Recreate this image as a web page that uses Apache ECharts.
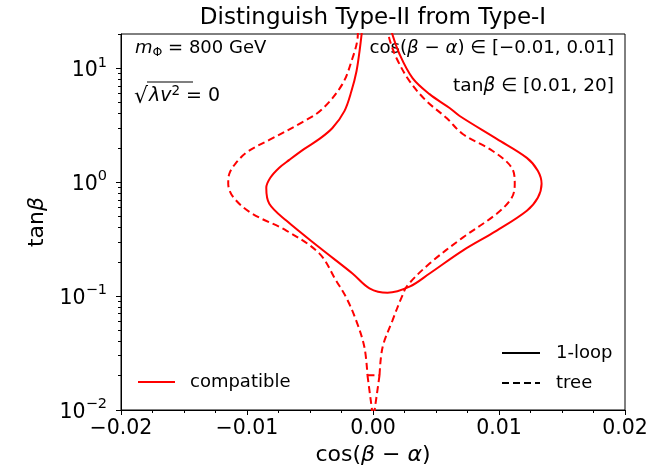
<!DOCTYPE html>
<html><head><meta charset="utf-8">
<script src="https://cdn.jsdelivr.net/npm/echarts@6/dist/echarts.min.js"></script>
<style>html,body{margin:0;padding:0;background:#fff}#c{width:672px;height:469px}</style>
</head><body><div id="c"></div>
<script>
// ---- data ----
const xTickValues = [-0.02, -0.01, 0, 0.01, 0.02];
const yMajorTicks = [0.01, 0.1, 1, 10];
const yMinorTicks = [0.02,0.03,0.04,0.05,0.06,0.07,0.08,0.09,
                     0.2,0.3,0.4,0.5,0.6,0.7,0.8,0.9,
                     2,3,4,5,6,7,8,9,20];
// 1-loop contour (solid)
const loopCurve = [
  [-0.00088,21],[-0.00107,14.1],[-0.00131,9.43],[-0.00171,6.31],[-0.00227,4.21],
  [-0.00322,2.99],[-0.00425,2.40],[-0.00545,1.96],[-0.00664,1.57],[-0.00744,1.34],
  [-0.00815,1.093],[-0.00847,0.893],[-0.00823,0.647],[-0.00688,0.46],[-0.00425,0.267],
  [-0.00163,0.158],[-0.00028,0.117],[0.00115,0.107],[0.0029,0.121],[0.00449,0.158],
  [0.00712,0.251],[0.00982,0.376],[0.01221,0.562],[0.01308,0.73],[0.01338,0.968],
  [0.01308,1.26],[0.01221,1.635],[0.00982,2.40],[0.00688,3.81],[0.00608,4.48],
  [0.00449,5.93],[0.00314,8.2],[0.00211,13.28],[0.00147,21]
];
// tree contour (dashed): left branch, bottom step, right branch, lower tails
const treeLeft = [
  [-0.0012,21],[-0.00123,18],[-0.00163,12.26],[-0.00243,7.26],[-0.00402,4.39],
  [-0.00545,3.44],[-0.00823,2.35],[-0.00998,1.845],[-0.01093,1.45],
  [-0.01141,1.18],[-0.01149,0.968],[-0.01105,0.73],[-0.00958,0.529],[-0.00688,0.376],
  [-0.00425,0.236],[-0.00293,0.137],[-0.00213,0.0974],[-0.00134,0.0613],
  [-0.00068,0.0356],[-0.00044,0.0202]
];
const treeStep = [[-0.00044,0.0202],[0.00052,0.0202]];
const treeRight = [
  [0.00052,0.0202],[0.00076,0.0356],[0.00155,0.0613],[0.00227,0.0974],[0.00274,0.124],
  [0.00449,0.193],[0.00712,0.326],[0.00982,0.529],[0.01101,0.73],[0.01125,0.968],
  [0.01101,1.34],[0.0095,1.88],[0.00712,2.65],[0.00584,3.66],[0.00425,5.15],
  [0.0029,7.71],[0.00187,12.26],[0.00131,18],[0.00123,21]
];
const treeTailLeft = [[-0.00044,0.0202],[-0.00005,0.0095]];
const treeTailRight = [[0.00052,0.0202],[0.0001,0.0095]];

// ---- chart ----
const FONT = 'DejaVu Sans';
const RED = '#ff0000';
const chart = echarts.init(document.getElementById('c'), null, {renderer:'canvas'});

function xFmt(v){
  if (Math.abs(v) < 1e-9) return '0.00';
  return v.toFixed(2).replace('-', '\u2212');
}
function yFmt(v){
  const e = Math.round(Math.log10(v));
  return '{b|10}{s|' + (e < 0 ? '\u2212' + (-e) : e) + '}';
}

const lineBase = {type:'line', showSymbol:false, symbol:'none', clip:true, smooth:0.35, animation:false, silent:true};
const dash = {color:RED, width:2, type:[7,4]};

chart.setOption({
  animation:false,
  backgroundColor:'#fff',
  grid:{left:121, right:47, top:34, bottom:59, containLabel:false, outerBoundsMode:'none',
        show:true, borderColor:'#000', borderWidth:1, backgroundColor:'transparent'},
  xAxis:{
    type:'value', min:-0.02, max:0.02, interval:0.01,
    axisLine:{show:true, onZero:false, lineStyle:{color:'#000', width:1}},
    axisTick:{show:true, length:5, lineStyle:{color:'#000', width:1}},
    minorTick:{show:true, splitNumber:4, length:3, lineStyle:{color:'#000', width:1}},
    splitLine:{show:false},
    axisLabel:{formatter:xFmt, color:'#000', fontFamily:FONT, fontSize:20.5, margin:8},
    name:'{r|cos(}{i|β}{r| − }{i|α}{r|)}', nameLocation:'middle', nameGap:34,
    nameTextStyle:{rich:{r:{fontFamily:FONT, fontSize:22, color:'#000'}, i:{fontFamily:FONT, fontStyle:'italic', fontSize:22, color:'#000'}}}
  },
  yAxis:[{
    type:'log', logBase:10, min:0.01, max:20,
    axisLine:{show:true, onZero:false, lineStyle:{color:'#000', width:1}},
    axisTick:{show:true, length:5, customValues:yMajorTicks, lineStyle:{color:'#000', width:1}},
    splitLine:{show:false},
    axisLabel:{customValues:yMajorTicks, formatter:yFmt, margin:14,
      rich:{b:{fontFamily:FONT, fontSize:20.5, color:'#000', lineHeight:26, verticalAlign:'bottom'},
            s:{fontFamily:FONT, fontSize:14.5, color:'#000', lineHeight:26, verticalAlign:'top'}}},
    name:'{r|tan}{i|β}', nameLocation:'middle', nameGap:70,
    nameTextStyle:{rich:{r:{fontFamily:FONT, fontSize:22, color:'#000'}, i:{fontFamily:FONT, fontStyle:'italic', fontSize:22, color:'#000'}}}
  },{
    type:'log', logBase:10, min:0.01, max:20, position:'left',
    axisLine:{show:false, onZero:false},
    axisTick:{show:true, length:3, customValues:yMinorTicks, lineStyle:{color:'#000', width:1}},
    axisLabel:{show:false}, splitLine:{show:false}
  }],
  series:[
    Object.assign({}, lineBase, {name:'1-loop', data:loopCurve, lineStyle:{color:RED, width:2, type:'solid'}}),
    Object.assign({}, lineBase, {name:'treeLeft', data:treeLeft, lineStyle:dash}),
    Object.assign({}, lineBase, {name:'treeStep', data:treeStep, smooth:false, lineStyle:dash}),
    Object.assign({}, lineBase, {name:'treeRight', data:treeRight, lineStyle:dash}),
    Object.assign({}, lineBase, {name:'treeTailL', data:treeTailLeft, smooth:false, lineStyle:dash}),
    Object.assign({}, lineBase, {name:'treeTailR', data:treeTailRight, smooth:false, lineStyle:dash})
  ],
  graphic:[
    {type:'text', x:373, y:18, style:{text:'Distinguish Type-II from Type-I', font:'23px "DejaVu Sans"', fill:'#000', align:'center', verticalAlign:'middle'}},
    {type:'text', x:135, y:48, style:{text:'{i|m}{sub|Φ}{r| = 800 GeV}', align:'left', verticalAlign:'middle',
      rich:{i:{fontFamily:FONT, fontStyle:'italic', fontSize:18, fill:'#000'}, sub:{fontFamily:FONT, fontSize:12.5, fill:'#000', verticalAlign:'bottom', padding:[9,0,0,0]}, r:{fontFamily:FONT, fontSize:18, fill:'#000'}}}},
    {type:'text', x:614, y:48, style:{text:'{r|cos(}{i|β}{r| − }{i|α}{r|) ∈ [−0.01, 0.01]}', align:'right', verticalAlign:'middle',
      rich:{i:{fontFamily:FONT, fontStyle:'italic', fontSize:18.2, fill:'#000'}, r:{fontFamily:FONT, fontSize:18.2, fill:'#000'}}}},
    {type:'text', x:614, y:86, style:{text:'{r|tan}{i|β}{r| ∈ [0.01, 20]}', align:'right', verticalAlign:'middle',
      rich:{i:{fontFamily:FONT, fontStyle:'italic', fontSize:18.5, fill:'#000'}, r:{fontFamily:FONT, fontSize:18.5, fill:'#000'}}}},
    {type:'text', x:134, y:97, style:{text:'√', font:'22px "DejaVu Sans"', fill:'#000', align:'left', verticalAlign:'middle'}},
    {type:'line', shape:{x1:147, y1:82, x2:193, y2:82}, style:{stroke:'#000', lineWidth:1.2}},
    {type:'text', x:149, y:96, style:{text:'{i|λv}{sup|2}{r| = 0}', align:'left', verticalAlign:'middle',
      rich:{i:{fontFamily:FONT, fontStyle:'italic', fontSize:19, fill:'#000'}, sup:{fontFamily:FONT, fontSize:13.5, fill:'#000', verticalAlign:'top', padding:[0,0,9,0]}, r:{fontFamily:FONT, fontSize:19, fill:'#000'}}}},
    // legends
    {type:'line', shape:{x1:138, y1:382, x2:175, y2:382}, style:{stroke:RED, lineWidth:2}},
    {type:'text', x:190, y:382, style:{text:'compatible', font:'18px "DejaVu Sans"', fill:'#000', align:'left', verticalAlign:'middle'}},
    {type:'line', shape:{x1:502, y1:353, x2:540, y2:353}, style:{stroke:'#000', lineWidth:2}},
    {type:'text', x:556, y:353, style:{text:'1-loop', font:'18px "DejaVu Sans"', fill:'#000', align:'left', verticalAlign:'middle'}},
    {type:'line', shape:{x1:502, y1:383, x2:540, y2:383}, style:{stroke:'#000', lineWidth:2, lineDash:[7,4]}},
    {type:'text', x:556, y:383, style:{text:'tree', font:'18px "DejaVu Sans"', fill:'#000', align:'left', verticalAlign:'middle'}}
  ]
});
</script></body></html>
